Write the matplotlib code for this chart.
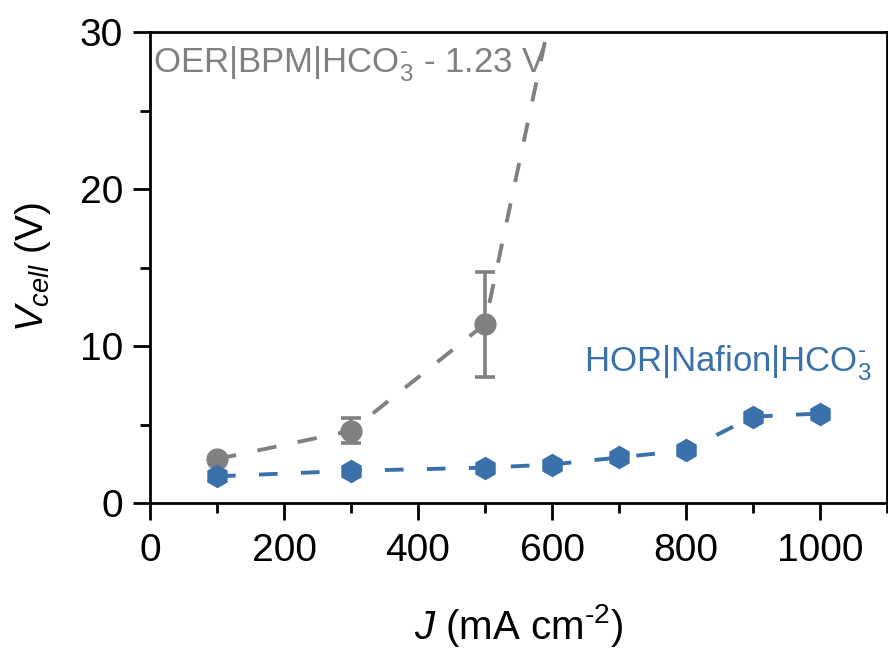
import matplotlib
matplotlib.use("Agg")
import matplotlib.pyplot as plt
from matplotlib.ticker import MultipleLocator

plt.rcParams['font.family'] = ['Liberation Sans', 'DejaVu Sans']
plt.rcParams['mathtext.fontset'] = 'custom'
plt.rcParams['mathtext.rm'] = 'Liberation Sans'
plt.rcParams['mathtext.it'] = 'Liberation Sans:italic'
plt.rcParams['mathtext.bf'] = 'Liberation Sans:bold'

# OER|BPM|HCO3- data (last point lies above the plotted range)
oer_j = [100, 300, 500, 600]
oer_v = [2.8, 4.6, 11.4, 31.5]
oer_err_low = [0.0, 0.75, 3.35, 0.0]
oer_err_high = [0.0, 0.8, 3.3, 0.0]

# HOR|Nafion|HCO3- data
hor_j = [100, 300, 500, 600, 700, 800, 900, 1000]
hor_v = [1.7, 2.05, 2.25, 2.45, 2.9, 3.35, 5.5, 5.7]

xticks = [0, 200, 400, 600, 800, 1000]
yticks = [0, 10, 20, 30]

gray = '#808080'
blue = '#3a71ab'

fig = plt.figure(figsize=(8.88, 6.5), dpi=100)
ax = fig.add_axes([150/888, 1-503/650, 737/888, 471/650])

ax.plot(oer_j, oer_v, color=gray, lw=2.8, dashes=(5.0, 5.6), zorder=2)
ax.errorbar(oer_j, oer_v, yerr=[oer_err_low, oer_err_high], fmt='o', color=gray,
            ms=15, elinewidth=2.6, capsize=7.5, capthick=2.6, zorder=3)

ax.plot(hor_j, hor_v, color=blue, lw=2.8, dashes=(4.8, 6.0), marker='h', ms=17,
        markeredgewidth=0, zorder=4)

ax.text(4, 27.4, 'OER|BPM|HCO$_3^{\\text{-}}$ - 1.23 V', color=gray, fontsize=25,
        ha='left', va='baseline')
ax.text(648, 8.36, 'HOR|Nafion|HCO$_3^{\\text{-}}$', color=blue, fontsize=25,
        ha='left', va='baseline')

ax.set_xlim(0, 1100)
ax.set_ylim(0, 30)
ax.set_xticks(xticks)
ax.set_yticks(yticks)
ax.xaxis.set_minor_locator(MultipleLocator(100))
ax.yaxis.set_minor_locator(MultipleLocator(5))

ax.tick_params(which='both', direction='out', width=2.0, labelsize=28, top=False, right=False)
ax.tick_params(which='major', length=12.5)
ax.tick_params(which='minor', length=7)
ax.tick_params(axis='x', which='major', pad=9)
ax.tick_params(axis='y', which='major', pad=7)
for s in ax.spines.values():
    s.set_linewidth(2.0)

ax.set_xlabel('$J$ (mA cm$^{\\text{-}2}$)', fontsize=29, labelpad=24)
ax.set_ylabel('$V_{cell}$ (V)', fontsize=28, labelpad=19)

fig.savefig('out.png', dpi=100)
